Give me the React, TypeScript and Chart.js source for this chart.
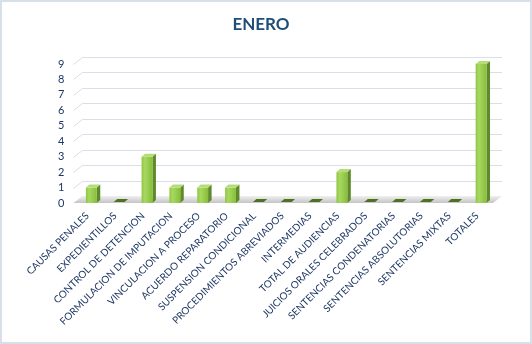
import React, { useEffect, useRef } from "react";
import { Chart, registerables } from "chart.js";

Chart.register(...registerables);

const TITLE = "ENERO";
const categories = [
  "CAUSAS PENALES",
  "EXPEDIENTILLOS",
  "CONTROL DE DETENCION",
  "FORMULACION DE IMPUTACION",
  "VINCULACION A PROCESO",
  "ACUERDO REPARATORIO",
  "SUSPENSION CONDICIONAL",
  "PROCEDIMIENTOS ABREVIADOS",
  "INTERMEDIAS",
  "TOTAL DE AUDIENCIAS",
  "JUICIOS ORALES CELEBRADOS",
  "SENTENCIAS CONDENATORIAS",
  "SENTENCIAS ABSOLUTORIAS",
  "SENTENCIAS MIXTAS",
  "TOTALES",
];
const values = [1, 0, 3, 1, 1, 1, 0, 0, 0, 2, 0, 0, 0, 0, 9];
const yMin = 0;
const yMax = 9;
const yStep = 1;

const TEXT = "#1F3864";
const GRID = "#D9DFE8";
const GDX = 9;
const GDY = 7;
const BDX = 3.5;
const BDY = 3;

const threeD = {
  id: "threeD",
  beforeDatasetsDraw(chart: any) {
    const { ctx, chartArea } = chart;
    const ys = chart.scales.y;
    const left0 = chartArea.left - 4;
    const right0 = chartArea.right - 2;
    const base = ys.getPixelForValue(0);
    ctx.save();
    // floor
    const g = ctx.createLinearGradient(0, base, 0, base - GDY);
    g.addColorStop(0, "#C4C4C4");
    g.addColorStop(1, "#F0F0F0");
    ctx.fillStyle = g;
    ctx.beginPath();
    ctx.moveTo(left0, base);
    ctx.lineTo(right0, base);
    ctx.lineTo(right0 + GDX, base - GDY);
    ctx.lineTo(left0 + GDX, base - GDY);
    ctx.closePath();
    ctx.fill();
    // grid
    ctx.strokeStyle = GRID;
    ctx.lineWidth = 1;
    ys.ticks.forEach((t: any) => {
      if (t.value === 0) return;
      const y = Math.round(ys.getPixelForValue(t.value)) + 0.5;
      ctx.beginPath();
      ctx.moveTo(left0, y);
      ctx.lineTo(left0 + GDX, y - GDY);
      ctx.lineTo(right0 + GDX, y - GDY);
      ctx.stroke();
    });
    ctx.restore();
  },
  afterDatasetsDraw(chart: any) {
    const { ctx } = chart;
    const meta = chart.getDatasetMeta(0);
    ctx.save();
    meta.data.forEach((el: any, i: number) => {
      const { x, y, base, width } = el.getProps(["x", "y", "base", "width"], true);
      const l = x - width / 2;
      const r = x + width / 2;
      if (values[i] === 0) {
        ctx.fillStyle = "#4E7224";
        ctx.beginPath();
        ctx.moveTo(l, base - 1);
        ctx.lineTo(r, base - 1);
        ctx.lineTo(r + BDX, base - 1 - BDY);
        ctx.lineTo(l + BDX, base - 1 - BDY);
        ctx.closePath();
        ctx.fill();
        return;
      }
      // side
      ctx.fillStyle = "#5E8A2A";
      ctx.beginPath();
      ctx.moveTo(r, y);
      ctx.lineTo(r + BDX, y - BDY);
      ctx.lineTo(r + BDX, base - BDY);
      ctx.lineTo(r, base);
      ctx.closePath();
      ctx.fill();
      // front
      const fg = ctx.createLinearGradient(l, 0, r, 0);
      fg.addColorStop(0, "#8EC63F");
      fg.addColorStop(0.3, "#A8D862");
      fg.addColorStop(1, "#88BE3A");
      ctx.fillStyle = fg;
      ctx.fillRect(l, y, width, base - y);
      // top
      ctx.fillStyle = "#B4DD78";
      ctx.beginPath();
      ctx.moveTo(l, y);
      ctx.lineTo(r, y);
      ctx.lineTo(r + BDX, y - BDY);
      ctx.lineTo(l + BDX, y - BDY);
      ctx.closePath();
      ctx.fill();
    });
    ctx.restore();
  },
  afterDraw(chart: any) {
    const { ctx } = chart;
    ctx.save();
    ctx.fillStyle = "#1F4E79";
    ctx.font = "bold 17px Lato";
    ctx.textAlign = "center";
    ctx.textBaseline = "alphabetic";
    ctx.fillText(TITLE, 261, 30);
    ctx.strokeStyle = "#D6DFEA";
    ctx.lineWidth = 2;
    ctx.strokeRect(1, 1, chart.width - 2, chart.height - 2);
    ctx.restore();
  },
};

export default function App() {
  const ref = useRef<HTMLCanvasElement>(null);
  useEffect(() => {
    document.body.style.margin = "0";
    const chart = new Chart(ref.current as HTMLCanvasElement, {
      type: "bar",
      data: {
        labels: categories,
        datasets: [
          {
            data: values,
            backgroundColor: "rgba(0,0,0,0)",
            borderWidth: 0,
            categoryPercentage: 1,
            barPercentage: 0.39,
          },
        ],
      },
      options: {
        responsive: false,
        animation: false,
        layout: { padding: { left: 0, right: 37, top: 64, bottom: 0 } },
        plugins: {
          legend: { display: false },
          title: { display: false },
          tooltip: { enabled: false },
        },
        scales: {
          x: {
            grid: { display: false, drawTicks: false },
            border: { display: false },
            ticks: {
              autoSkip: false,
              maxRotation: 45,
              minRotation: 45,
              padding: 7,
              labelOffset: -4,
              color: TEXT,
              font: { family: "Lato", size: 10 },
            },
            afterFit: (s: any) => {
              s.height = 141;
            },
          },
          y: {
            min: yMin,
            max: yMax,
            grid: { display: false, drawTicks: false },
            border: { display: false },
            ticks: {
              stepSize: yStep,
              autoSkip: false,
              padding: 13,
              color: TEXT,
              font: { family: "Lato", size: 11 },
            },
            afterFit: (s: any) => {
              s.width = 77.4;
            },
          },
        },
      },
      plugins: [threeD],
    });
    return () => chart.destroy();
  }, []);
  return <canvas ref={ref} width={532} height={344} style={{ display: "block" }} />;
}
